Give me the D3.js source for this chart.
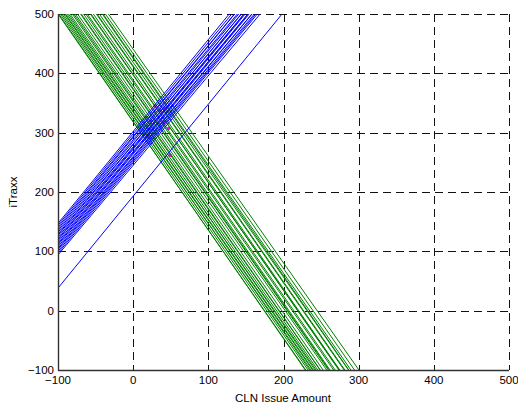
<!DOCTYPE html>
<html><head><meta charset="utf-8">
<script src="https://cdn.jsdelivr.net/npm/d3@7"></script>
<style>body{margin:0;background:#fff}svg{display:block}</style>
</head><body><svg id="c" width="518" height="409"></svg>
<script>
const xTicks = [-100, 0, 100, 200, 300, 400, 500];
const yTicks = [-100, 0, 100, 200, 300, 400, 500];
// Blue lines: y value at x=-100 and slope
const blueStart = [94, 97, 100, 103, 105, 108, 111, 113, 116, 119, 121, 124, 127, 129, 132, 135, 138, 141, 144, 147, 38];
const blueSlope = [1.51, 1.52, 1.52, 1.52, 1.53, 1.52, 1.53, 1.53, 1.52, 1.53, 1.53, 1.52, 1.53, 1.52, 1.53, 1.53, 1.54, 1.53, 1.54, 1.55, 1.55];
// Green lines: x value where y=500 and slope
const greenTop = [-100, -99, -97, -95, -93, -91, -90, -88, -86, -84, -81, -79, -77, -74, -70, -69, -66, -63, -61, -57, -56, -53, -49, -48, -45, -41, -40, -37, -33];
const greenSlope = [-1.82, -1.83, -1.82, -1.81, -1.83, -1.82, -1.82, -1.81, -1.83, -1.82, -1.82, -1.83, -1.82, -1.81, -1.82, -1.82, -1.83, -1.82, -1.82, -1.81, -1.82, -1.83, -1.82, -1.82, -1.81, -1.83, -1.82, -1.81, -1.80];
// Magenta markers
const markX = [29, 36, 43, 47, 19, 49, 24, 40];
const markY = [345, 337, 341, 307, 293, 262, 320, 318];

const svg = d3.select('#c');
const m = {l: 58, r: 509, t: 14, b: 370};
const x = d3.scaleLinear().domain([-100, 500]).range([m.l, m.r]);
const y = d3.scaleLinear().domain([-100, 500]).range([m.b, m.t]);
const font = '"Liberation Sans", Arial, sans-serif';

svg.append('clipPath').attr('id', 'clip').append('rect')
  .attr('x', m.l).attr('y', m.t).attr('width', m.r - m.l).attr('height', m.b - m.t);

// grid
const g = svg.append('g');
g.selectAll('.vx').data(xTicks).join('line')
  .attr('x1', d => Math.round(x(d)) + 0.5).attr('x2', d => Math.round(x(d)) + 0.5).attr('y1', m.t).attr('y2', m.b)
  .attr('stroke', '#111').attr('stroke-width', 1).attr('stroke-dasharray', '8,5');
g.selectAll('.hy').data(yTicks).join('line')
  .attr('y1', d => Math.round(y(d)) + 0.5).attr('y2', d => Math.round(y(d)) + 0.5).attr('x1', m.l).attr('x2', m.r)
  .attr('stroke', '#111').attr('stroke-width', 1).attr('stroke-dasharray', '8,5');

const plot = svg.append('g').attr('clip-path', 'url(#clip)');

// markers
plot.selectAll('.mk').data(markX).join('circle')
  .attr('cx', (d, i) => x(d)).attr('cy', (d, i) => y(markY[i])).attr('r', 1.8)
  .attr('fill', '#ff00ff');

const line = d3.line().x(d => x(d[0])).y(d => y(d[1]));
// green
greenTop.forEach((t, i) => {
  const s = greenSlope[i];
  const pts = [[-100, 500 + s * (-100 - t)], [500, 500 + s * (500 - t)]];
  plot.append('path').attr('d', line(pts)).attr('fill', 'none')
    .attr('stroke', '#008000').attr('stroke-width', 1);
});
// blue
blueStart.forEach((a, i) => {
  const s = blueSlope[i];
  const pts = [[-100, a], [500, a + s * 600]];
  plot.append('path').attr('d', line(pts)).attr('fill', 'none')
    .attr('stroke', '#0000ff').attr('stroke-width', 1);
});

// axes lines
svg.append('line').attr('x1', m.l + 0.5).attr('x2', m.l + 0.5).attr('y1', m.t).attr('y2', m.b + 0.5)
  .attr('stroke', '#333').attr('stroke-width', 1.4);
svg.append('line').attr('x1', m.l).attr('x2', m.r).attr('y1', m.b + 0.5).attr('y2', m.b + 0.5)
  .attr('stroke', '#333').attr('stroke-width', 1.4);

// tick labels
svg.selectAll('.xl').data(xTicks).join('text')
  .attr('x', d => x(d)).attr('y', 384).attr('text-anchor', 'middle')
  .attr('font-family', font).attr('font-size', 11.5).attr('fill', '#000')
  .text(d => d < 0 ? '\u2212' + Math.abs(d) : d);
svg.selectAll('.yl').data(yTicks).join('text')
  .attr('x', 54).attr('y', d => y(d) + 4).attr('text-anchor', 'end')
  .attr('font-family', font).attr('font-size', 11.5).attr('fill', '#000')
  .text(d => d < 0 ? '\u2212' + Math.abs(d) : d);

svg.append('text').attr('x', 283).attr('y', 402).attr('text-anchor', 'middle')
  .attr('font-family', font).attr('font-size', 11.5).text('CLN Issue Amount');
svg.append('text').attr('transform', 'translate(17,192) rotate(-90)').attr('text-anchor', 'middle')
  .attr('font-family', font).attr('font-size', 11.5).text('iTraxx');
</script></body></html>
